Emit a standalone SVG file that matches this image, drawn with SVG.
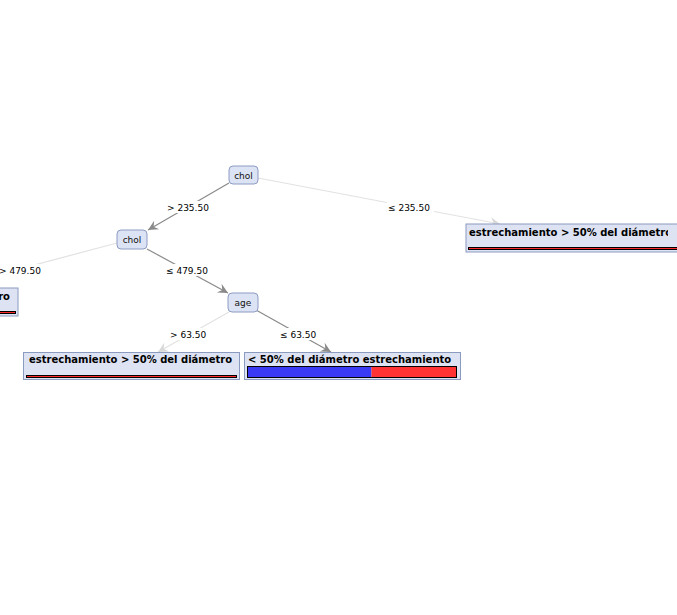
<svg xmlns="http://www.w3.org/2000/svg" width="677" height="615" viewBox="0 0 677 615">
<defs>
<style>
.node rect{fill:#dce3f4;stroke:#8d9cc3;stroke-width:1}
.node text{font-family:"DejaVu Sans",sans-serif;font-size:9px;fill:#111;text-anchor:middle}
.leaf rect.box{fill:#dde3f3;stroke:#8b9abf;stroke-width:1}
.leaf text{font-family:"DejaVu Sans",sans-serif;font-size:10px;font-weight:bold;fill:#000}
.bar{stroke:#000;stroke-width:1}
.dark{stroke:#8a8a8a;stroke-width:1.2;fill:none;marker-end:url(#ad)}
.faint{stroke:#e2e2e2;stroke-width:1.2;fill:none;marker-end:url(#af)}
.lbl rect{fill:#fff}
.lbl text{font-family:"DejaVu Sans",sans-serif;font-size:9px;fill:#000}
</style>
<clipPath id="cr"><rect x="0" y="0" width="668" height="615"/></clipPath>
<marker id="ad" viewBox="-11 -6 12 12" refX="0" refY="0" markerWidth="12" markerHeight="12" markerUnits="userSpaceOnUse" orient="auto">
<path d="M0,0 L-10,-5 L-6.5,0 L-10,5 Z" fill="#8a8a8a"/>
</marker>
<marker id="af" viewBox="-11 -6 12 12" refX="0" refY="0" markerWidth="12" markerHeight="12" markerUnits="userSpaceOnUse" orient="auto">
<path d="M0,0 L-10,-5 L-6.5,0 L-10,5 Z" fill="#d8d8d8"/>
</marker>
</defs>
<rect x="0" y="0" width="677" height="615" fill="#fff"/>
<g id="connectors">
<line class="dark" x1="229" y1="183" x2="148" y2="230"/>
<line class="faint" x1="258" y1="178" x2="500" y2="224"/>
<line class="faint" x1="117" y1="243" x2="-60" y2="290"/>
<line class="dark" x1="147" y1="249" x2="228" y2="293"/>
<line class="faint" x1="229" y1="312" x2="158" y2="352"/>
<line class="dark" x1="256" y1="310" x2="331" y2="352"/>
<g class="lbl"><rect x="166" y="201" width="44" height="12"/><text x="167" y="210.5">&gt; 235.50</text></g>
<g class="lbl"><rect x="387" y="201" width="47" height="12"/><text x="388" y="210.5">≤ 235.50</text></g>
<g class="lbl"><rect x="-2" y="264" width="48" height="12"/><text x="-1" y="273.5">&gt; 479.50</text></g>
<g class="lbl"><rect x="165" y="264" width="48" height="12"/><text x="166" y="273.5">≤ 479.50</text></g>
<g class="lbl"><rect x="169" y="328" width="40" height="12"/><text x="170" y="337.5">&gt; 63.50</text></g>
<g class="lbl"><rect x="279" y="328" width="40" height="12"/><text x="280" y="337.5">≤ 63.50</text></g>
</g>
<g id="n_root" class="node"><rect x="229" y="166" width="29" height="18" rx="4"/><text x="243.5" y="178.5">chol</text></g>
<g id="n_chol2" class="node"><rect x="117" y="230" width="30" height="19" rx="4"/><text x="132" y="242.5">chol</text></g>
<g id="n_age" class="node"><rect x="228" y="293" width="30" height="19" rx="4"/><text x="243" y="305.5">age</text></g>
<g id="leaf_right" class="leaf"><rect class="box" x="466" y="224" width="216" height="28"/><text x="469" y="236" clip-path="url(#cr)">estrechamiento &gt; 50% del diámetro</text><rect class="bar" x="468.5" y="247.5" width="212" height="2" fill="#ff2a2a"/></g>
<g id="leaf_left" class="leaf"><rect class="box" x="-198" y="288" width="216" height="28"/><text x="10" y="300" text-anchor="end">estrechamiento &gt; 50% del diámetro</text><rect class="bar" x="-195.5" y="311.5" width="211" height="2" fill="#ff2a2a"/></g>
<g id="leaf_bl" class="leaf"><rect class="box" x="23.5" y="352.5" width="216" height="27"/><text x="29" y="363">estrechamiento &gt; 50% del diámetro</text><rect class="bar" x="26.5" y="375.5" width="210" height="2" fill="#ff2a2a"/></g>
<g id="leaf_br" class="leaf"><rect class="box" x="244.5" y="352.5" width="216" height="27"/><text x="248" y="363">&lt; 50% del diámetro estrechamiento</text><rect x="247.5" y="366.5" width="124" height="11" fill="#3a3af5"/><rect x="371.5" y="366.5" width="85" height="11" fill="#ff3333"/><rect class="bar" x="247.5" y="366.5" width="209" height="11" fill="none"/></g>
</svg>
